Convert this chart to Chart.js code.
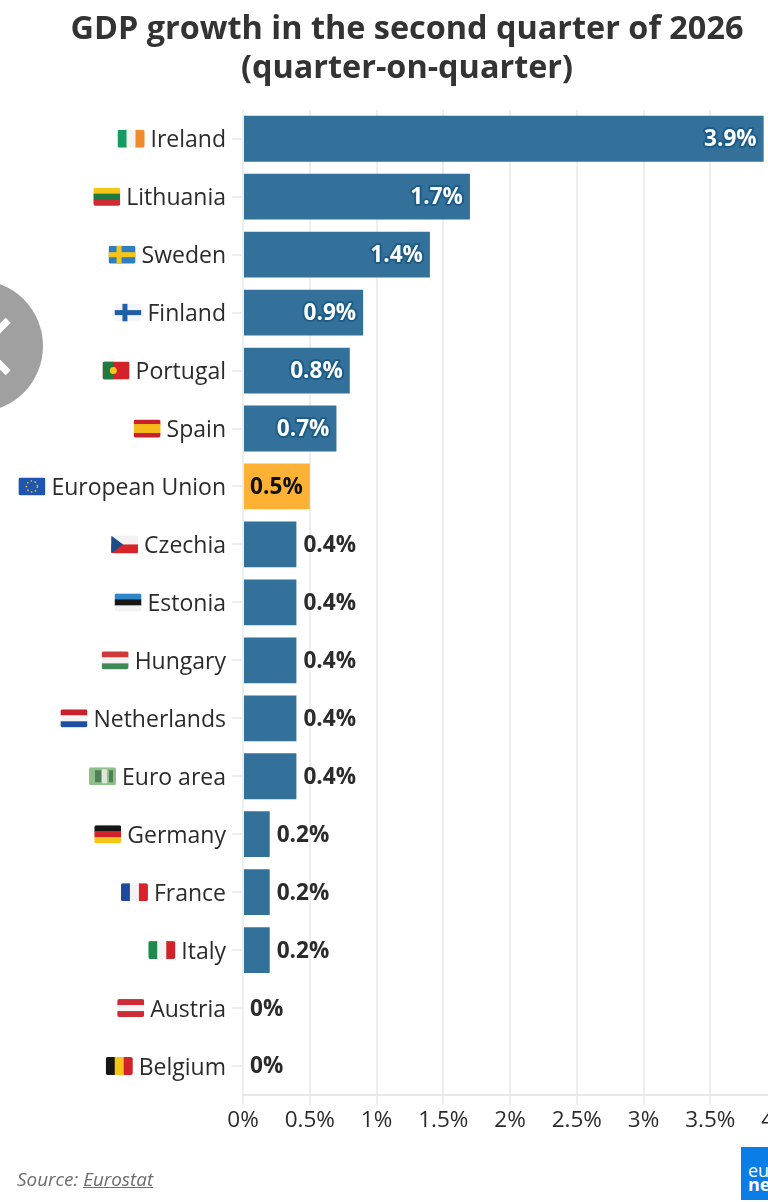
<!DOCTYPE html>
<html>
<head>
<meta charset="utf-8">
<script src="https://cdn.jsdelivr.net/npm/chart.js@4"></script>
<style>
  html,body{margin:0;padding:0;width:768px;height:1202px;overflow:hidden;background:#fff;font-family:"Open Sans",sans-serif}
  #wrap{position:relative;width:768px;height:1202px;overflow:hidden}
  canvas{position:absolute;left:0;top:0}
  #source{position:absolute;left:17px;top:1166px;font-size:18.9px;font-style:italic;color:#6d6d6d}
  #source span{text-decoration:underline}
  #logo{position:absolute;left:741px;top:1147px;width:60px;height:53px;background:#0a7de6;color:#fff;font-size:18px;line-height:14px;padding:16px 0 0 7px;box-sizing:border-box}
  #logo b{display:block}
  #close{position:absolute;left:-89px;top:280px;width:132px;height:132px;border-radius:50%;background:#a0a0a0;overflow:hidden}
  #close i{position:absolute;left:34px;top:63px;width:74px;height:7px;background:#fff}
  #close i.a{transform:rotate(45deg)}
  #close i.b{transform:rotate(-45deg)}
</style>
</head>
<body>
<div id="wrap">
  <canvas id="chart" width="815" height="1202"></canvas>
  <div id="close"><i class="a"></i><i class="b"></i></div>
  <div id="source">Source: <span>Eurostat</span></div>
  <div id="logo">euro<b>news</b></div>
</div>
<script>
const categories = ['Ireland','Lithuania','Sweden','Finland','Portugal','Spain','European Union','Czechia','Estonia','Hungary','Netherlands','Euro area','Germany','France','Italy','Austria','Belgium'];
const growth = [3.9,1.7,1.4,0.9,0.8,0.7,0.5,0.4,0.4,0.4,0.4,0.4,0.2,0.2,0.2,0,0];
const xTicks = [0,0.5,1,1.5,2,2.5,3,3.5,4];
const highlighted = 'European Union';

const BLUE = '#33719b', ORANGE = '#fdb135', DARK = '#2b2b2b';

// flag stripes: v = vertical, h = horizontal, c = nordic cross
const flags = {
  'Ireland':['v','#169b62','#f4f4f0','#f08a2c'],
  'Lithuania':['h','#f5c518','#1f7a42','#cf2b36'],
  'Sweden':['c','#2f7fc0','#f5c518'],
  'Finland':['c','#f4f6fa','#1f5fa8'],
  'Portugal':['p','#1f7a42','#d2232a'],
  'Spain':['h','#c8202c','#f5b91a','#f5b91a','#c8202c'],
  'European Union':['e','#1f55b0','#f5c518'],
  'Czechia':['z','#f2f2f2','#d8232a','#1f4a8a'],
  'Estonia':['h','#2f86c9','#161616','#f2f2f2'],
  'Hungary':['h','#ce3a3a','#f2f2f2','#3f8a54'],
  'Netherlands':['h','#c8202c','#f4f4f4','#1f4fa0'],
  'Euro area':['n','#8fbf8a','#4f7f55','#dfe8d8'],
  'Germany':['h','#161616','#d2232a','#f5c518'],
  'France':['v','#1f4a9c','#f4f4f4','#d8232a'],
  'Italy':['v','#1f8a4c','#f4f4f4','#d2232a'],
  'Austria':['h','#cf2b36','#f4f4f4','#cf2b36'],
  'Belgium':['v','#161616','#f5c518','#d2232a']
};

function drawFlag(ctx, name, x, cy){
  const f = flags[name], w = 27, h = 18, y = cy - h/2;
  const kind = f[0], cols = f.slice(1);
  ctx.save();
  ctx.beginPath();
  ctx.roundRect(x, y, w, h, 2);
  ctx.clip();
  if(kind==='v') cols.forEach((c,i)=>{ctx.fillStyle=c;ctx.fillRect(x+i*w/cols.length,y,w/cols.length+.5,h);});
  if(kind==='h') cols.forEach((c,i)=>{ctx.fillStyle=c;ctx.fillRect(x,y+i*h/cols.length,w,h/cols.length+.5);});
  if(kind==='c'){
    ctx.fillStyle=cols[0];ctx.fillRect(x,y,w,h);
    ctx.fillStyle=cols[1];ctx.fillRect(x+8,y,5,h);ctx.fillRect(x,y+6.5,w,5);
  }
  if(kind==='p'){
    ctx.fillStyle=cols[1];ctx.fillRect(x,y,w,h);
    ctx.fillStyle=cols[0];ctx.fillRect(x,y,w*.4,h);
    ctx.fillStyle='#f5c518';ctx.beginPath();ctx.arc(x+w*.4,cy,3.5,0,7);ctx.fill();
  }
  if(kind==='e'){
    ctx.fillStyle=cols[0];ctx.fillRect(x,y,w,h);
    ctx.strokeStyle=cols[1];ctx.setLineDash([1.5,2.5]);ctx.lineWidth=1.5;
    ctx.beginPath();ctx.arc(x+w/2,cy,5.5,0,7);ctx.stroke();
  }
  if(kind==='z'){
    ctx.fillStyle=cols[0];ctx.fillRect(x,y,w,h/2);
    ctx.fillStyle=cols[1];ctx.fillRect(x,cy,w,h/2);
    ctx.fillStyle=cols[2];ctx.beginPath();ctx.moveTo(x,y);ctx.lineTo(x+12,cy);ctx.lineTo(x,y+h);ctx.fill();
  }
  if(kind==='n'){
    ctx.fillStyle=cols[0];ctx.fillRect(x,y,w,h);
    ctx.fillStyle=cols[1];ctx.fillRect(x+6,y+3,6,h-6);ctx.fillRect(x+w-7,y+3,4,h-6);
    ctx.fillStyle=cols[2];ctx.fillRect(x+13,y+2,5,h-4);
  }
  ctx.restore();
}

const flagPlugin = {
  id:'flags',
  afterDraw(chart){
    const ctx = chart.ctx, y = chart.scales.y;
    ctx.save();
    ctx.font = y.options.ticks.font.size + 'px "Open Sans"';
    categories.forEach((name,i)=>{
      const w = ctx.measureText(name).width;
      drawFlag(ctx, name, 226 - w - 33, y.getPixelForTick(i));
    });
    ctx.restore();
  }
};

const valueLabels = {
  id:'valueLabels',
  afterDatasetsDraw(chart){
    const ctx = chart.ctx, bars = chart.getDatasetMeta(0).data;
    ctx.save();
    ctx.font = 'bold 22.6px "Open Sans"';
    ctx.textBaseline = 'middle';
    ctx.lineJoin = 'round';
    bars.forEach((bar,i)=>{
      const v = growth[i], txt = v + '%';
      if(categories[i]===highlighted){
        ctx.textAlign='right';ctx.fillStyle='#111';
        ctx.fillText(txt, bar.x-7, bar.y+1);
      }else if(v>0.5){
        ctx.textAlign='right';
        ctx.strokeStyle='#1c5c88';ctx.lineWidth=4;
        ctx.strokeText(txt, bar.x-7, bar.y+1);
        ctx.fillStyle='#fff';
        ctx.fillText(txt, bar.x-7, bar.y+1);
      }else{
        ctx.textAlign='left';ctx.fillStyle=DARK;
        ctx.fillText(txt, bar.x+7, bar.y+1);
      }
    });
    ctx.restore();
  }
};

new Chart(document.getElementById('chart'), {
  type:'bar',
  plugins:[flagPlugin, valueLabels],
  data:{
    labels:categories,
    datasets:[{
      data:growth,
      backgroundColor:categories.map(c=>c===highlighted?ORANGE:BLUE),
      barPercentage:0.79,
      categoryPercentage:1
    }]
  },
  options:{
    indexAxis:'y',
    responsive:false,
    animation:false,
    layout:{padding:{left:37,right:38,top:0,bottom:0}},
    plugins:{
      legend:{display:false},
      tooltip:{enabled:false},
      title:{
        display:true,
        text:['GDP growth in the second quarter of 2026','(quarter-on-quarter)'],
        color:'#333',
        font:{family:'"Open Sans"',size:32.4,weight:'bold',lineHeight:1.2},
        padding:{top:10,bottom:22}
      }
    },
    scales:{
      x:{
        min:0,max:4,
        afterBuildTicks(s){ s.ticks = xTicks.map(v=>({value:v})); },
        afterFit(s){ s.height = 107; },
        grid:{color:'#eeeeee',lineWidth:2,tickLength:10,tickColor:'#eeeeee'},
        border:{color:'#e8e8e8',width:2},
        ticks:{
          callback:v=>v+'%',
          color:DARK,
          maxRotation:0,
          autoSkip:false,
          padding:2,
          font:{family:'"Open Sans"',size:22.5}
        }
      },
      y:{
        afterFit(s){ s.width = 206; },
        grid:{drawOnChartArea:false,offset:false,color:'#eeeeee',lineWidth:2,tickLength:11},
        border:{display:false},
        ticks:{
          color:DARK,
          padding:6,
          autoSkip:false,
          labelOffset:2,
          font:{family:'"Open Sans"',size:23}
        }
      }
    }
  }
});
</script>
</body>
</html>
